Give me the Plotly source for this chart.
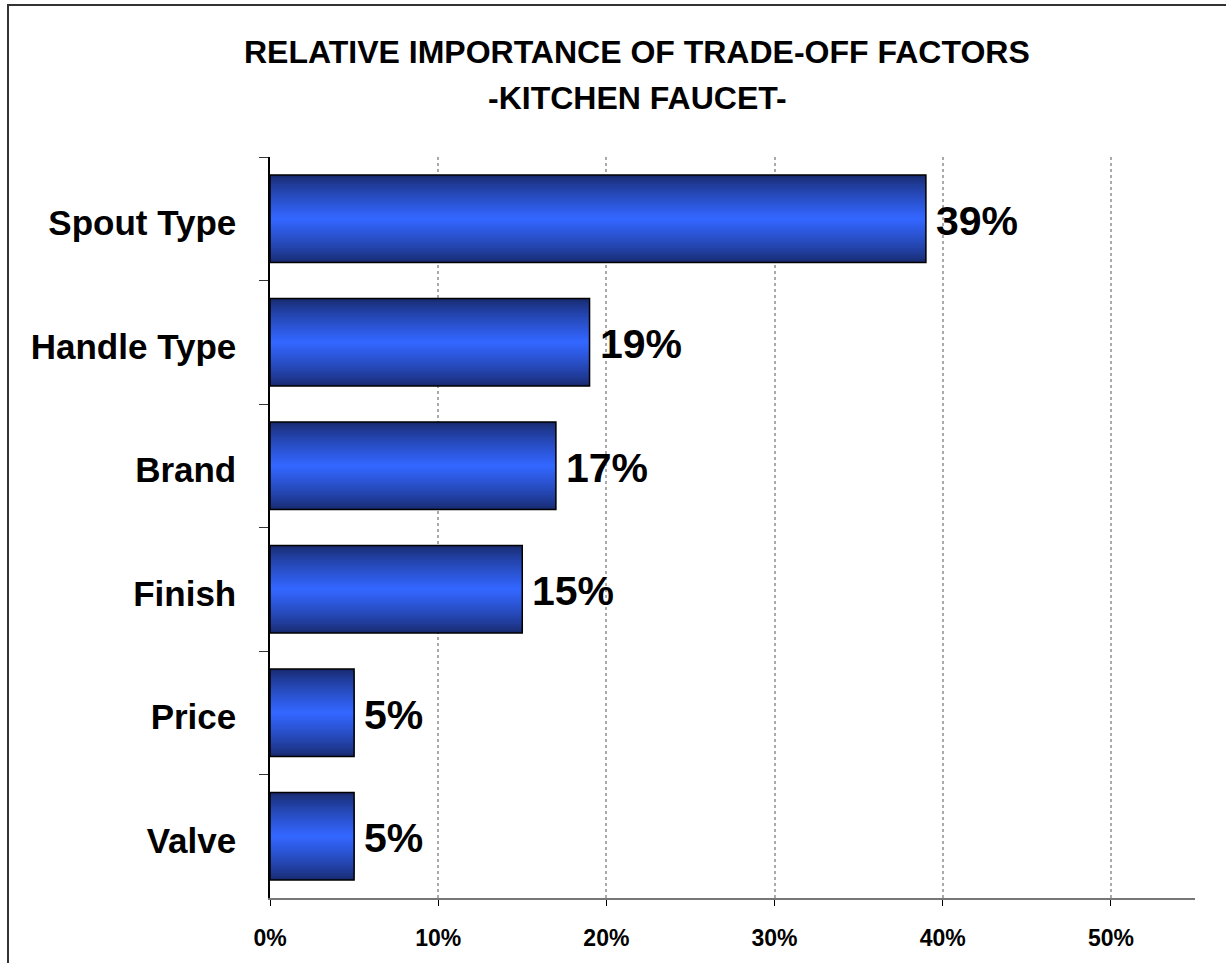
import plotly.graph_objects as go

categories = ["Spout Type", "Handle Type", "Brand", "Finish", "Price", "Valve"]
values = [39, 19, 17, 15, 5, 5]
value_labels = ["39%", "19%", "17%", "15%", "5%", "5%"]
x_ticks = [0, 10, 20, 30, 40, 50]
x_tick_labels = ["0%", "10%", "20%", "30%", "40%", "50%"]

FONT = "Liberation Sans, Arial, sans-serif"
BAR_W = 0.71
N = 24
dark = (24, 42, 110)
bright = (51, 102, 255)


def mix(t):
    return "rgb(%d,%d,%d)" % tuple(round(d + (b - d) * t) for d, b in zip(dark, bright))


fig = go.Figure()
for i in range(N):
    frac = 1 - i / N
    t = (i / (N - 1)) ** 0.8
    fig.add_trace(go.Bar(
        y=categories, x=values, orientation="h",
        width=BAR_W * frac,
        marker=dict(color=mix(t), line=dict(width=0)),
        hoverinfo="skip", showlegend=False,
    ))

fig.add_trace(go.Bar(
    y=categories, x=values, orientation="h", width=BAR_W,
    marker=dict(color="rgba(0,0,0,0)", line=dict(color="black", width=1.5)),
    showlegend=False,
))

annotations = [
    dict(x=v, y=c, xref="x", yref="y", text="<b>%s</b>" % lab, showarrow=False,
         xanchor="left", yanchor="middle", xshift=8, yshift=-2,
         font=dict(size=41, family=FONT, color="black"))
    for c, v, lab in zip(categories, values, value_labels)
]
annotations += [
    dict(text="<b>RELATIVE IMPORTANCE OF TRADE-OFF FACTORS</b>", xref="paper", yref="paper",
         x=(637 - 270) / 925, y=1 + (157 - 52) / 741, xanchor="center", yanchor="middle",
         showarrow=False, font=dict(size=32, family=FONT, color="black")),
    dict(text="<b>-KITCHEN FAUCET-</b>", xref="paper", yref="paper",
         x=(637 - 270) / 925, y=1 + (157 - 98) / 741, xanchor="center", yanchor="middle",
         showarrow=False, font=dict(size=32, family=FONT, color="black")),
]

fig.update_layout(
    width=1226, height=963,
    margin=dict(l=270, r=31, t=157, b=65),
    paper_bgcolor="white", plot_bgcolor="white",
    barmode="overlay",
    font=dict(family=FONT, color="black"),
    xaxis=dict(
        range=[0, 55], tickvals=x_ticks, ticktext=x_tick_labels,
        showgrid=True, gridcolor="#aaaaaa", griddash="dot", gridwidth=1.5,
        zeroline=False,
        showline=True, linecolor="#777777", linewidth=2,
        ticks="outside", ticklen=6, tickcolor="black",
        tickfont=dict(size=23, family=FONT, weight="bold"),
        ticklabelstandoff=12,
    ),
    yaxis=dict(
        categoryorder="array", categoryarray=categories, autorange="reversed",
        tickson="boundaries", ticks="outside", ticklen=9, tickcolor="#333333",
        showline=True, linecolor="black", linewidth=1.5,
        showgrid=False, zeroline=False,
        tickfont=dict(size=35, family=FONT, weight="bold"),
        ticklabelstandoff=25, ticklabelshift=-4,
    ),
    annotations=annotations,
    shapes=[
        dict(type="rect", xref="paper", yref="paper",
             x0=-(270 - 8) / 925, x1=1 + 40 / 925, y0=-80 / 741, y1=1 + (157 - 5) / 741,
             line=dict(color="#333333", width=2), fillcolor="rgba(0,0,0,0)", layer="below"),
    ],
)

fig.write_html("out.html")
